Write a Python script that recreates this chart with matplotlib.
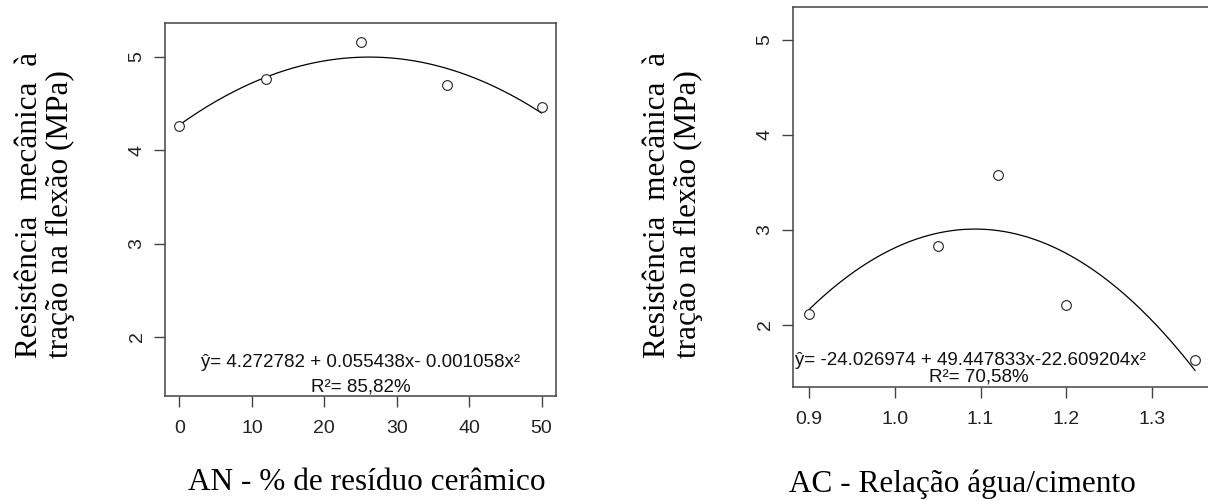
import matplotlib
matplotlib.use("Agg")
import matplotlib.pyplot as plt
import numpy as np

# AN - % de residuo ceramico
an_x = [0, 12, 25, 37, 50]
an_y = [4.26, 4.76, 5.16, 4.70, 4.46]
an_coef = [4.272782, 0.055438, -0.001058]
an_xticks = [0, 10, 20, 30, 40, 50]
an_eq = "ŷ= 4.272782 + 0.055438x- 0.001058x²"
an_r2 = "R²= 85,82%"

# AC - relacao agua/cimento
ac_x = [0.90, 1.05, 1.12, 1.20, 1.35]
ac_y = [2.12, 2.83, 3.58, 2.21, 1.63]
ac_coef = [-24.026974, 49.447833, -22.609204]
ac_xticks = [0.9, 1.0, 1.1, 1.2, 1.3]
ac_xticklabels = ["0.9", "1.0", "1.1", "1.2", "1.3"]
ac_eq = "ŷ= -24.026974 + 49.447833x-22.609204x²"
ac_r2 = "R²= 70,58%"

yticks = [2, 3, 4, 5]
ylabel = "Resistência  mecânica  à\ntração na flexão (MPa)"

W, H = 1208, 501
fig = plt.figure(figsize=(W / 100, H / 100), dpi=100)

sans = "Liberation Sans"
serif = "Liberation Serif"
box_col = "#444444"


def style_axes(ax):
    for s in ax.spines.values():
        s.set_color(box_col)
        s.set_linewidth(1.1)
    ax.tick_params(direction="out", length=8, width=1.0, color=box_col,
                   labelsize=14, labelcolor="#222222")
    ax.tick_params(axis="x", pad=9)
    ax.tick_params(axis="y", pad=6)
    for lab in ax.get_xticklabels() + ax.get_yticklabels():
        lab.set_fontfamily(sans)
    for lab in ax.get_yticklabels():
        lab.set_rotation(90)
        lab.set_va("center")


def draw_panel(ax, x, y, coef, xlim, ylim):
    xs = np.linspace(min(x), max(x), 200)
    ys = coef[0] + coef[1] * xs + coef[2] * xs ** 2
    ax.plot(xs, ys, color="black", lw=0.9)
    ax.plot(x, y, "o", mfc="white", mec="#222222", mew=0.8, ms=7)
    ax.set_xlim(*xlim)
    ax.set_ylim(*ylim)
    ax.set_yticks(yticks)


def eq_text(ax, eq, r2, eq_pos, r2_pos, eq_ha):
    ax.text(eq_pos[0], eq_pos[1], eq, transform=ax.transAxes, ha=eq_ha,
            va="center", fontsize=13.5, family=sans, color="#111111")
    ax.text(r2_pos[0], r2_pos[1], r2, transform=ax.transAxes, ha="center",
            va="center", fontsize=13.5, family=sans, color="#111111")


# left panel
ax1 = fig.add_axes([165 / W, 1 - 396 / H, 391 / W, 373 / H])
draw_panel(ax1, an_x, an_y, an_coef, (-2, 52), (1.368, 5.364))
eq_text(ax1, an_eq, an_r2, (0.5, 0.091), (0.5, 0.024), "center")
ax1.set_xticks(an_xticks)
style_axes(ax1)

# right panel
ax2 = fig.add_axes([793 / W, 1 - 387 / H, 418 / W, 380 / H])
draw_panel(ax2, ac_x, ac_y, ac_coef, (0.8813, 1.3687), (1.347, 5.347))
eq_text(ax2, ac_eq, ac_r2, (0.004, 0.071), (0.445, 0.026), "left")
ax2.set_xticks(ac_xticks)
ax2.set_xticklabels(ac_xticklabels)
style_axes(ax2)

# labels placed like text boxes in the original document
fig.text(45 / W, 1 - 205 / H, ylabel, rotation=90, ha="center", va="center",
         fontsize=22.5, family=serif, linespacing=1.1, multialignment="left")
fig.text(673 / W, 1 - 205 / H, ylabel, rotation=90, ha="center", va="center",
         fontsize=22.5, family=serif, linespacing=1.1, multialignment="left")
fig.text(367 / W, 1 - 482 / H, "AN - % de resíduo cerâmico", ha="center",
         va="center", fontsize=22.5, family=serif)
fig.text(962 / W, 1 - 484 / H, "AC - Relação água/cimento", ha="center",
         va="center", fontsize=22.5, family=serif)

fig.savefig("out.png", dpi=100)
